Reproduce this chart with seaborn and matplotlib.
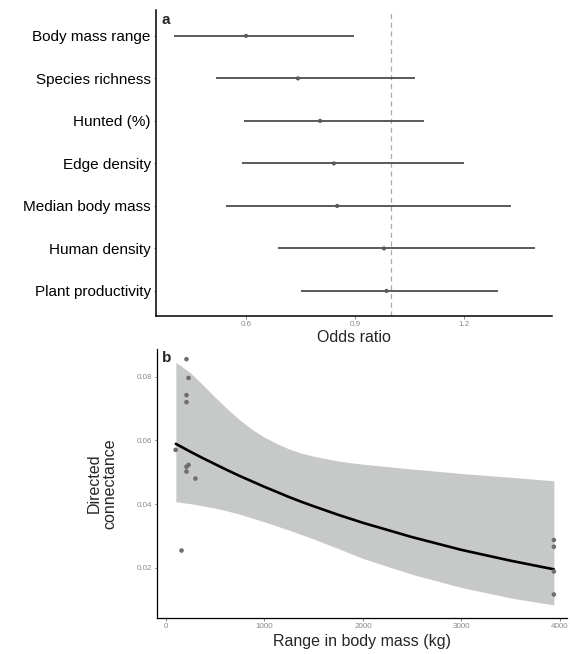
import numpy as np
import pandas as pd
import seaborn as sns
import matplotlib
matplotlib.use('Agg')
import matplotlib.pyplot as plt

sns.set_style('ticks')
plt.rcParams['font.family'] = ['Liberation Sans', 'DejaVu Sans']

# panel a: odds ratios with confidence intervals
predictors = ['Body mass range', 'Species richness', 'Hunted (%)', 'Edge density',
              'Median body mass', 'Human density', 'Plant productivity']
odds_ratio = [0.600, 0.743, 0.804, 0.842, 0.851, 0.980, 0.987]
ci_low = [0.402, 0.517, 0.594, 0.589, 0.545, 0.688, 0.752]
ci_high = [0.897, 1.066, 1.090, 1.200, 1.329, 1.396, 1.293]
or_ticks = [0.6, 0.9, 1.2]

# panel b: observed connectance vs body mass range
mass_range = [98, 208, 229, 208, 208, 229, 208, 208, 299, 158, 3938, 3938, 3938, 3938]
connectance = [0.0570, 0.0855, 0.0796, 0.0742, 0.0720, 0.0523, 0.0517, 0.0502, 0.0480,
               0.0254, 0.0287, 0.0266, 0.0188, 0.0116]

# fitted curve and band
fit_x = [100, 250, 375, 500, 625, 750, 875, 1000, 1125, 1250, 1375, 1500, 1750, 2000,
         2500, 3000, 3500, 3938]
fit_y = [0.0589, 0.0564, 0.0544, 0.0525, 0.0506, 0.0488, 0.0471, 0.0454, 0.0438, 0.0422,
         0.0407, 0.0393, 0.0366, 0.0341, 0.0296, 0.0256, 0.0222, 0.0195]
fit_lo = [0.0407, 0.0401, 0.0394, 0.0387, 0.0378, 0.0368, 0.0356, 0.0344, 0.0331, 0.0318,
          0.0304, 0.0290, 0.0260, 0.0229, 0.0179, 0.0138, 0.0105, 0.0083]
fit_hi = [0.0845, 0.0812, 0.0774, 0.0735, 0.0698, 0.0664, 0.0634, 0.0610, 0.0590, 0.0573,
          0.0560, 0.0550, 0.0535, 0.0525, 0.0510, 0.0496, 0.0484, 0.0473]
mass_ticks = [0, 1000, 2000, 3000, 4000]
conn_ticks = [0.02, 0.04, 0.06, 0.08]

df_a = pd.DataFrame({'predictor': predictors, 'or': odds_ratio,
                     'lo': ci_low, 'hi': ci_high})
df_a['pos'] = np.arange(len(df_a))
df_b = pd.DataFrame({'mass': mass_range, 'conn': connectance})
df_fit = pd.DataFrame({'x': fit_x, 'y': fit_y, 'lo': fit_lo, 'hi': fit_hi})

fig = plt.figure(figsize=(5.7, 6.54), dpi=100)
ax1 = fig.add_axes([0.2737, 0.5168, 0.6947, 0.468])
ax2 = fig.add_axes([0.276, 0.0555, 0.719, 0.4104])

tick_col = '#8a8a8a'

# ---- panel a
ax1.axvline(1.0, color='#a8a8a8', linestyle=(0, (4, 3)), linewidth=0.9, zorder=1)
ax1.hlines(df_a['pos'], df_a['lo'], df_a['hi'], color='#4d4d4d', linewidth=1.3, zorder=2)
sns.scatterplot(data=df_a, x='or', y='pos', ax=ax1, color='#5a5a5a', s=9,
                edgecolor='none', zorder=3)
ax1.set_xlim(0.352, 1.443)
ax1.set_ylim(len(df_a) - 1 + 0.59, -0.61)
ax1.set_yticks(df_a['pos'])
ax1.set_yticklabels(predictors, fontsize=11, color='black')
ax1.set_xticks(or_ticks)
ax1.set_xticklabels([str(t) for t in or_ticks], fontsize=5.8, color=tick_col)
ax1.set_xlabel('Odds ratio', fontsize=11.5, labelpad=1)
ax1.set_ylabel('')
ax1.text(0.015, 0.99, 'a', transform=ax1.transAxes, fontsize=11, fontweight='bold',
         ha='left', va='top')

# ---- panel b
ax2.fill_between(df_fit['x'], df_fit['lo'], df_fit['hi'], color='#c7c9c9',
                 linewidth=0, zorder=1)
sns.lineplot(data=df_fit, x='x', y='y', ax=ax2, color='black', linewidth=1.9, zorder=2)
sns.scatterplot(data=df_b, x='mass', y='conn', ax=ax2, color='#6e6e6e', s=11,
                edgecolor='none', zorder=3)
ax2.set_xlim(-88, 4073)
ax2.set_ylim(0.0043, 0.0886)
ax2.set_xticks(mass_ticks)
ax2.set_xticklabels([str(t) for t in mass_ticks], fontsize=5.8, color=tick_col)
ax2.set_yticks(conn_ticks)
ax2.set_yticklabels([f'{t:.2f}' for t in conn_ticks], fontsize=5.8, color=tick_col)
ax2.set_xlabel('Range in body mass (kg)', fontsize=11.5, labelpad=3)
ax2.set_ylabel('Directed\nconnectance', fontsize=11.5, linespacing=1.0)
ax2.yaxis.set_label_coords(-0.098, 0.5)
ax2.text(0.012, 0.995, 'b', transform=ax2.transAxes, fontsize=11, fontweight='bold',
         ha='left', va='top')

for ax, lw in ((ax1, 1.1), (ax2, 0.9)):
    sns.despine(ax=ax)
    ax.spines['left'].set_linewidth(lw)
    ax.spines['bottom'].set_linewidth(lw)
    ax.spines['left'].set_color('black')
    ax.spines['bottom'].set_color('black')
    ax.tick_params(axis='both', length=1.8, width=0.5, color='#555555', pad=2)
    ax.grid(False)

fig.savefig('out.png', dpi=100)
